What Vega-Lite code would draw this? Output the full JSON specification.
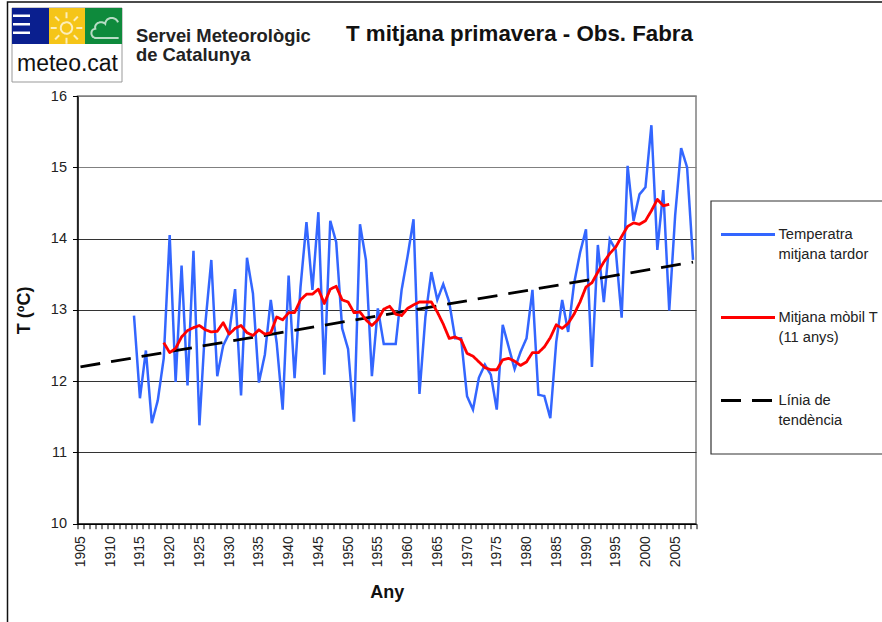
{"$schema":"https://vega.github.io/schema/vega-lite/v6.json","width":618.5,"height":427.7,"autosize":"none","padding":{"left":77.5,"top":96,"right":186,"bottom":98.3},"background":"white","config":{"font":"Liberation Sans","view":{"stroke":"#808080","strokeWidth":1.5}},"datasets":{"d":[{"year":1914,"series":"Temperatra mitjana tardor","t":12.92},{"year":1915,"series":"Temperatra mitjana tardor","t":11.76},{"year":1916,"series":"Temperatra mitjana tardor","t":12.43},{"year":1917,"series":"Temperatra mitjana tardor","t":11.41},{"year":1918,"series":"Temperatra mitjana tardor","t":11.73},{"year":1919,"series":"Temperatra mitjana tardor","t":12.32},{"year":1920,"series":"Temperatra mitjana tardor","t":14.05},{"year":1921,"series":"Temperatra mitjana tardor","t":11.99},{"year":1922,"series":"Temperatra mitjana tardor","t":13.62},{"year":1923,"series":"Temperatra mitjana tardor","t":11.94},{"year":1924,"series":"Temperatra mitjana tardor","t":13.83},{"year":1925,"series":"Temperatra mitjana tardor","t":11.38},{"year":1926,"series":"Temperatra mitjana tardor","t":12.81},{"year":1927,"series":"Temperatra mitjana tardor","t":13.7},{"year":1928,"series":"Temperatra mitjana tardor","t":12.07},{"year":1929,"series":"Temperatra mitjana tardor","t":12.5},{"year":1930,"series":"Temperatra mitjana tardor","t":12.67},{"year":1931,"series":"Temperatra mitjana tardor","t":13.29},{"year":1932,"series":"Temperatra mitjana tardor","t":11.8},{"year":1933,"series":"Temperatra mitjana tardor","t":13.73},{"year":1934,"series":"Temperatra mitjana tardor","t":13.23},{"year":1935,"series":"Temperatra mitjana tardor","t":11.98},{"year":1936,"series":"Temperatra mitjana tardor","t":12.37},{"year":1937,"series":"Temperatra mitjana tardor","t":13.14},{"year":1938,"series":"Temperatra mitjana tardor","t":12.53},{"year":1939,"series":"Temperatra mitjana tardor","t":11.6},{"year":1940,"series":"Temperatra mitjana tardor","t":13.48},{"year":1941,"series":"Temperatra mitjana tardor","t":12.04},{"year":1942,"series":"Temperatra mitjana tardor","t":13.32},{"year":1943,"series":"Temperatra mitjana tardor","t":14.23},{"year":1944,"series":"Temperatra mitjana tardor","t":13.28},{"year":1945,"series":"Temperatra mitjana tardor","t":14.37},{"year":1946,"series":"Temperatra mitjana tardor","t":12.09},{"year":1947,"series":"Temperatra mitjana tardor","t":14.25},{"year":1948,"series":"Temperatra mitjana tardor","t":13.95},{"year":1949,"series":"Temperatra mitjana tardor","t":12.74},{"year":1950,"series":"Temperatra mitjana tardor","t":12.45},{"year":1951,"series":"Temperatra mitjana tardor","t":11.43},{"year":1952,"series":"Temperatra mitjana tardor","t":14.2},{"year":1953,"series":"Temperatra mitjana tardor","t":13.7},{"year":1954,"series":"Temperatra mitjana tardor","t":12.07},{"year":1955,"series":"Temperatra mitjana tardor","t":13.02},{"year":1956,"series":"Temperatra mitjana tardor","t":12.52},{"year":1957,"series":"Temperatra mitjana tardor","t":12.52},{"year":1958,"series":"Temperatra mitjana tardor","t":12.52},{"year":1959,"series":"Temperatra mitjana tardor","t":13.28},{"year":1960,"series":"Temperatra mitjana tardor","t":13.75},{"year":1961,"series":"Temperatra mitjana tardor","t":14.27},{"year":1962,"series":"Temperatra mitjana tardor","t":11.82},{"year":1963,"series":"Temperatra mitjana tardor","t":12.9},{"year":1964,"series":"Temperatra mitjana tardor","t":13.53},{"year":1965,"series":"Temperatra mitjana tardor","t":13.14},{"year":1966,"series":"Temperatra mitjana tardor","t":13.36},{"year":1967,"series":"Temperatra mitjana tardor","t":13.11},{"year":1968,"series":"Temperatra mitjana tardor","t":12.6},{"year":1969,"series":"Temperatra mitjana tardor","t":12.6},{"year":1970,"series":"Temperatra mitjana tardor","t":11.79},{"year":1971,"series":"Temperatra mitjana tardor","t":11.6},{"year":1972,"series":"Temperatra mitjana tardor","t":12.05},{"year":1973,"series":"Temperatra mitjana tardor","t":12.23},{"year":1974,"series":"Temperatra mitjana tardor","t":12.09},{"year":1975,"series":"Temperatra mitjana tardor","t":11.6},{"year":1976,"series":"Temperatra mitjana tardor","t":12.79},{"year":1977,"series":"Temperatra mitjana tardor","t":12.48},{"year":1978,"series":"Temperatra mitjana tardor","t":12.17},{"year":1979,"series":"Temperatra mitjana tardor","t":12.41},{"year":1980,"series":"Temperatra mitjana tardor","t":12.6},{"year":1981,"series":"Temperatra mitjana tardor","t":13.28},{"year":1982,"series":"Temperatra mitjana tardor","t":11.81},{"year":1983,"series":"Temperatra mitjana tardor","t":11.79},{"year":1984,"series":"Temperatra mitjana tardor","t":11.48},{"year":1985,"series":"Temperatra mitjana tardor","t":12.55},{"year":1986,"series":"Temperatra mitjana tardor","t":13.14},{"year":1987,"series":"Temperatra mitjana tardor","t":12.69},{"year":1988,"series":"Temperatra mitjana tardor","t":13.37},{"year":1989,"series":"Temperatra mitjana tardor","t":13.8},{"year":1990,"series":"Temperatra mitjana tardor","t":14.13},{"year":1991,"series":"Temperatra mitjana tardor","t":12.2},{"year":1992,"series":"Temperatra mitjana tardor","t":13.91},{"year":1993,"series":"Temperatra mitjana tardor","t":13.11},{"year":1994,"series":"Temperatra mitjana tardor","t":13.99},{"year":1995,"series":"Temperatra mitjana tardor","t":13.84},{"year":1996,"series":"Temperatra mitjana tardor","t":12.89},{"year":1997,"series":"Temperatra mitjana tardor","t":15.02},{"year":1998,"series":"Temperatra mitjana tardor","t":14.25},{"year":1999,"series":"Temperatra mitjana tardor","t":14.62},{"year":2000,"series":"Temperatra mitjana tardor","t":14.72},{"year":2001,"series":"Temperatra mitjana tardor","t":15.59},{"year":2002,"series":"Temperatra mitjana tardor","t":13.84},{"year":2003,"series":"Temperatra mitjana tardor","t":14.68},{"year":2004,"series":"Temperatra mitjana tardor","t":12.99},{"year":2005,"series":"Temperatra mitjana tardor","t":14.33},{"year":2006,"series":"Temperatra mitjana tardor","t":15.27},{"year":2007,"series":"Temperatra mitjana tardor","t":15.0},{"year":2008,"series":"Temperatra mitjana tardor","t":13.7},{"year":1905,"series":"Línia de tendència","t":12.2},{"year":2008,"series":"Línia de tendència","t":13.67},{"year":1919,"series":"Mitjana mòbil T (11 anys)","t":12.54},{"year":1920,"series":"Mitjana mòbil T (11 anys)","t":12.4},{"year":1921,"series":"Mitjana mòbil T (11 anys)","t":12.46},{"year":1922,"series":"Mitjana mòbil T (11 anys)","t":12.62},{"year":1923,"series":"Mitjana mòbil T (11 anys)","t":12.71},{"year":1924,"series":"Mitjana mòbil T (11 anys)","t":12.75},{"year":1925,"series":"Mitjana mòbil T (11 anys)","t":12.78},{"year":1926,"series":"Mitjana mòbil T (11 anys)","t":12.72},{"year":1927,"series":"Mitjana mòbil T (11 anys)","t":12.69},{"year":1928,"series":"Mitjana mòbil T (11 anys)","t":12.7},{"year":1929,"series":"Mitjana mòbil T (11 anys)","t":12.82},{"year":1930,"series":"Mitjana mòbil T (11 anys)","t":12.66},{"year":1931,"series":"Mitjana mòbil T (11 anys)","t":12.74},{"year":1932,"series":"Mitjana mòbil T (11 anys)","t":12.78},{"year":1933,"series":"Mitjana mòbil T (11 anys)","t":12.68},{"year":1934,"series":"Mitjana mòbil T (11 anys)","t":12.64},{"year":1935,"series":"Mitjana mòbil T (11 anys)","t":12.72},{"year":1936,"series":"Mitjana mòbil T (11 anys)","t":12.66},{"year":1937,"series":"Mitjana mòbil T (11 anys)","t":12.68},{"year":1938,"series":"Mitjana mòbil T (11 anys)","t":12.9},{"year":1939,"series":"Mitjana mòbil T (11 anys)","t":12.86},{"year":1940,"series":"Mitjana mòbil T (11 anys)","t":12.96},{"year":1941,"series":"Mitjana mòbil T (11 anys)","t":12.96},{"year":1942,"series":"Mitjana mòbil T (11 anys)","t":13.14},{"year":1943,"series":"Mitjana mòbil T (11 anys)","t":13.22},{"year":1944,"series":"Mitjana mòbil T (11 anys)","t":13.22},{"year":1945,"series":"Mitjana mòbil T (11 anys)","t":13.29},{"year":1946,"series":"Mitjana mòbil T (11 anys)","t":13.09},{"year":1947,"series":"Mitjana mòbil T (11 anys)","t":13.29},{"year":1948,"series":"Mitjana mòbil T (11 anys)","t":13.33},{"year":1949,"series":"Mitjana mòbil T (11 anys)","t":13.14},{"year":1950,"series":"Mitjana mòbil T (11 anys)","t":13.11},{"year":1951,"series":"Mitjana mòbil T (11 anys)","t":12.96},{"year":1952,"series":"Mitjana mòbil T (11 anys)","t":12.97},{"year":1953,"series":"Mitjana mòbil T (11 anys)","t":12.86},{"year":1954,"series":"Mitjana mòbil T (11 anys)","t":12.78},{"year":1955,"series":"Mitjana mòbil T (11 anys)","t":12.86},{"year":1956,"series":"Mitjana mòbil T (11 anys)","t":13.01},{"year":1957,"series":"Mitjana mòbil T (11 anys)","t":13.05},{"year":1958,"series":"Mitjana mòbil T (11 anys)","t":12.94},{"year":1959,"series":"Mitjana mòbil T (11 anys)","t":12.92},{"year":1960,"series":"Mitjana mòbil T (11 anys)","t":13.02},{"year":1961,"series":"Mitjana mòbil T (11 anys)","t":13.07},{"year":1962,"series":"Mitjana mòbil T (11 anys)","t":13.11},{"year":1963,"series":"Mitjana mòbil T (11 anys)","t":13.11},{"year":1964,"series":"Mitjana mòbil T (11 anys)","t":13.11},{"year":1965,"series":"Mitjana mòbil T (11 anys)","t":12.97},{"year":1966,"series":"Mitjana mòbil T (11 anys)","t":12.8},{"year":1967,"series":"Mitjana mòbil T (11 anys)","t":12.6},{"year":1968,"series":"Mitjana mòbil T (11 anys)","t":12.62},{"year":1969,"series":"Mitjana mòbil T (11 anys)","t":12.58},{"year":1970,"series":"Mitjana mòbil T (11 anys)","t":12.39},{"year":1971,"series":"Mitjana mòbil T (11 anys)","t":12.35},{"year":1972,"series":"Mitjana mòbil T (11 anys)","t":12.27},{"year":1973,"series":"Mitjana mòbil T (11 anys)","t":12.19},{"year":1974,"series":"Mitjana mòbil T (11 anys)","t":12.16},{"year":1975,"series":"Mitjana mòbil T (11 anys)","t":12.16},{"year":1976,"series":"Mitjana mòbil T (11 anys)","t":12.3},{"year":1977,"series":"Mitjana mòbil T (11 anys)","t":12.32},{"year":1978,"series":"Mitjana mòbil T (11 anys)","t":12.28},{"year":1979,"series":"Mitjana mòbil T (11 anys)","t":12.22},{"year":1980,"series":"Mitjana mòbil T (11 anys)","t":12.27},{"year":1981,"series":"Mitjana mòbil T (11 anys)","t":12.4},{"year":1982,"series":"Mitjana mòbil T (11 anys)","t":12.4},{"year":1983,"series":"Mitjana mòbil T (11 anys)","t":12.48},{"year":1984,"series":"Mitjana mòbil T (11 anys)","t":12.61},{"year":1985,"series":"Mitjana mòbil T (11 anys)","t":12.79},{"year":1986,"series":"Mitjana mòbil T (11 anys)","t":12.74},{"year":1987,"series":"Mitjana mòbil T (11 anys)","t":12.81},{"year":1988,"series":"Mitjana mòbil T (11 anys)","t":12.94},{"year":1989,"series":"Mitjana mòbil T (11 anys)","t":13.11},{"year":1990,"series":"Mitjana mòbil T (11 anys)","t":13.32},{"year":1991,"series":"Mitjana mòbil T (11 anys)","t":13.38},{"year":1992,"series":"Mitjana mòbil T (11 anys)","t":13.53},{"year":1993,"series":"Mitjana mòbil T (11 anys)","t":13.67},{"year":1994,"series":"Mitjana mòbil T (11 anys)","t":13.79},{"year":1995,"series":"Mitjana mòbil T (11 anys)","t":13.88},{"year":1996,"series":"Mitjana mòbil T (11 anys)","t":14.03},{"year":1997,"series":"Mitjana mòbil T (11 anys)","t":14.17},{"year":1998,"series":"Mitjana mòbil T (11 anys)","t":14.22},{"year":1999,"series":"Mitjana mòbil T (11 anys)","t":14.2},{"year":2000,"series":"Mitjana mòbil T (11 anys)","t":14.25},{"year":2001,"series":"Mitjana mòbil T (11 anys)","t":14.39},{"year":2002,"series":"Mitjana mòbil T (11 anys)","t":14.55},{"year":2003,"series":"Mitjana mòbil T (11 anys)","t":14.46},{"year":2004,"series":"Mitjana mòbil T (11 anys)","t":14.48}]},"encoding":{"x":{"field":"year","type":"quantitative","scale":{"domain":[1904.5,2008.5],"nice":false,"zero":false},"axis":{"title":"Any","titleFontSize":18,"titleFontWeight":"bold","titleColor":"#111","titleY":69,"titleBaseline":"middle","titleAnchor":"middle","values":[1904.5,1905.5,1906.5,1907.5,1908.5,1909.5,1910.5,1911.5,1912.5,1913.5,1914.5,1915.5,1916.5,1917.5,1918.5,1919.5,1920.5,1921.5,1922.5,1923.5,1924.5,1925.5,1926.5,1927.5,1928.5,1929.5,1930.5,1931.5,1932.5,1933.5,1934.5,1935.5,1936.5,1937.5,1938.5,1939.5,1940.5,1941.5,1942.5,1943.5,1944.5,1945.5,1946.5,1947.5,1948.5,1949.5,1950.5,1951.5,1952.5,1953.5,1954.5,1955.5,1956.5,1957.5,1958.5,1959.5,1960.5,1961.5,1962.5,1963.5,1964.5,1965.5,1966.5,1967.5,1968.5,1969.5,1970.5,1971.5,1972.5,1973.5,1974.5,1975.5,1976.5,1977.5,1978.5,1979.5,1980.5,1981.5,1982.5,1983.5,1984.5,1985.5,1986.5,1987.5,1988.5,1989.5,1990.5,1991.5,1992.5,1993.5,1994.5,1995.5,1996.5,1997.5,1998.5,1999.5,2000.5,2001.5,2002.5,2003.5,2004.5,2005.5,2006.5,2007.5,2008.5],"labelExpr":"(datum.value+0.5)%5==0 ? ''+(datum.value+0.5) : ''","labelAngle":-90,"labelOffset":3,"labelFontSize":14,"labelColor":"#222","labelOverlap":false,"labelBound":false,"labelFlush":false,"labelPadding":7,"grid":false,"domainColor":"#000","domainWidth":1.5,"tickColor":"#000","tickSize":5,"tickWidth":1}},"y":{"field":"t","type":"quantitative","scale":{"domain":[10,16],"nice":false,"zero":false},"axis":{"title":"T (ºC)","titleFontSize":18,"titleFontWeight":"bold","titleColor":"#111","titleX":-44,"values":[10,11,12,13,14,15,16],"format":"d","labelFontSize":14.5,"labelColor":"#222","labelPadding":6,"domainColor":"#000","domainWidth":1.5,"tickColor":"#000","tickSize":5,"grid":true,"gridColor":{"condition":{"test":"datum.value>=15","value":"#808080"},"value":"#333333"},"gridWidth":1}},"color":{"field":"series","type":"nominal","scale":{"domain":["Temperatra mitjana tardor","Mitjana mòbil T (11 anys)","Línia de tendència"],"range":["#3366FF","#FF0000","#000000"]},"legend":{"title":null,"orient":"none","legendX":642,"legendY":110,"symbolType":"stroke","symbolSize":2916,"symbolStrokeWidth":3,"symbolOpacity":1,"rowPadding":27,"labelFontSize":14.7,"labelColor":"#222","labelLimit":200,"labelOffset":2,"labelBaseline":"top","labelExpr":"datum.label=='Temperatra mitjana tardor' ? ['Temperatra','mitjana tardor'] : datum.label=='Mitjana mòbil T (11 anys)' ? ['Mitjana mòbil T','(11 anys)'] : ['Línia de','tendència']","encode":{"labels":{"update":{"dy":{"value":-8},"lineHeight":{"value":20}}}}}},"strokeDash":{"field":"series","type":"nominal","scale":{"domain":["Temperatra mitjana tardor","Mitjana mòbil T (11 anys)","Línia de tendència"],"range":[[1,0],[1,0],[20,11]]}}},"layer":[{"data":{"values":[{"part":"page"}]},"mark":{"type":"rect","fill":"transparent","stroke":"#111","strokeWidth":1.5},"encoding":{"x":{"value":-70},"x2":{"value":820},"y":{"value":-94},"y2":{"value":540},"color":{"value":"transparent"},"strokeDash":{"value":[1,0]}}},{"data":{"values":[{"part":"legend box"}]},"mark":{"type":"rect","fill":"white","stroke":"#333","strokeWidth":1.2},"encoding":{"x":{"value":633.5},"x2":{"value":820},"y":{"value":105},"y2":{"value":358},"color":{"value":"white"},"strokeDash":{"value":[1,0]}}},{"data":{"name":"d"},"transform":[{"filter":"datum.series=='Temperatra mitjana tardor'"}],"mark":{"type":"line","strokeWidth":2.5,"strokeCap":"butt","strokeJoin":"miter"}},{"data":{"name":"d"},"transform":[{"filter":"datum.series=='Línia de tendència'"}],"mark":{"type":"line","strokeWidth":2.8,"strokeCap":"butt"}},{"data":{"name":"d"},"transform":[{"filter":"datum.series=='Mitjana mòbil T (11 anys)'"}],"mark":{"type":"line","strokeWidth":2.8,"strokeJoin":"round"}},{"data":{"values":[{"part":"logo"}]},"mark":{"type":"rect","fill":"white","stroke":"#999","strokeWidth":1},"encoding":{"x":{"value":-65.5},"x2":{"value":44.5},"y":{"value":-88},"y2":{"value":-14},"color":{"value":"white"},"strokeDash":{"value":[1,0]}}},{"data":{"values":[{"part":"logo"}]},"mark":{"type":"rect","fill":"#0A1F8F"},"encoding":{"x":{"value":-65.5},"x2":{"value":-28.5},"y":{"value":-88},"y2":{"value":-52},"color":{"value":"#0A1F8F"},"strokeDash":{"value":[1,0]}}},{"data":{"values":[{"part":"logo"}]},"mark":{"type":"rect","fill":"#F5C518"},"encoding":{"x":{"value":-28.5},"x2":{"value":7.5},"y":{"value":-88},"y2":{"value":-52},"color":{"value":"#F5C518"},"strokeDash":{"value":[1,0]}}},{"data":{"values":[{"part":"logo"}]},"mark":{"type":"rect","fill":"#0E8A3C"},"encoding":{"x":{"value":7.5},"x2":{"value":44.5},"y":{"value":-88},"y2":{"value":-52},"color":{"value":"#0E8A3C"},"strokeDash":{"value":[1,0]}}},{"data":{"values":[{"part":"logo"}]},"mark":{"type":"rect","fill":"white"},"encoding":{"x":{"value":-64.5},"x2":{"value":-47.5},"y":{"value":-81.5},"y2":{"value":-79},"color":{"value":"white"},"strokeDash":{"value":[1,0]}}},{"data":{"values":[{"part":"logo"}]},"mark":{"type":"rect","fill":"white"},"encoding":{"x":{"value":-64.5},"x2":{"value":-47.5},"y":{"value":-73},"y2":{"value":-70.5},"color":{"value":"white"},"strokeDash":{"value":[1,0]}}},{"data":{"values":[{"part":"logo"}]},"mark":{"type":"rect","fill":"white"},"encoding":{"x":{"value":-64.5},"x2":{"value":-47.5},"y":{"value":-64.5},"y2":{"value":-62},"color":{"value":"white"},"strokeDash":{"value":[1,0]}}},{"data":{"values":[{"part":"sun"}]},"mark":{"type":"point","shape":"circle","filled":false,"stroke":"white","strokeWidth":2},"encoding":{"x":{"value":-11},"y":{"value":-68},"size":{"value":130},"color":{"value":"white"},"strokeDash":{"value":[1,0]}}},{"data":{"values":[{"part":"rays"}]},"mark":{"type":"point","shape":"M-1,0L-.62,0M.62,0L1,0M0,-1L0,-.62M0,.62L0,1M-.72,-.72L-.46,-.46M.72,.72L.46,.46M-.72,.72L-.46,.46M.72,-.72L.46,-.46","filled":false,"stroke":"white","strokeWidth":2},"encoding":{"x":{"value":-11},"y":{"value":-68},"size":{"value":1000},"color":{"value":"white"},"strokeDash":{"value":[1,0]}}},{"data":{"values":[{"part":"cloud"}]},"mark":{"type":"point","shape":"M1,.7L-.6,.7C-1,.7 -1.05,.1 -.65,.05C-.75,-.35 -.2,-.55 .05,-.3C.1,-.8 .8,-.85 .95,-.4","filled":false,"stroke":"white","strokeWidth":2},"encoding":{"x":{"value":27},"y":{"value":-68},"size":{"value":800},"color":{"value":"white"},"strokeDash":{"value":[1,0]}}},{"data":{"values":[{"label":"meteo.cat"}]},"mark":{"type":"text","fontSize":23,"align":"center","baseline":"middle","fill":"#111"},"encoding":{"text":{"field":"label"},"x":{"value":-10},"y":{"value":-32},"color":{"value":"#111"},"strokeDash":{"value":[1,0]}}},{"data":{"values":[{"label":"Servei Meteorològic\nde Catalunya"}]},"mark":{"type":"text","fontSize":18.4,"fontWeight":"bold","align":"left","baseline":"middle","lineBreak":"\n","lineHeight":18.5,"fill":"#222"},"encoding":{"text":{"field":"label"},"x":{"value":58.5},"y":{"value":-60},"color":{"value":"#222"},"strokeDash":{"value":[1,0]}}},{"data":{"values":[{"label":"T mitjana primavera - Obs. Fabra"}]},"mark":{"type":"text","fontSize":22.3,"fontWeight":"bold","align":"left","baseline":"middle","fill":"#111"},"encoding":{"text":{"field":"label"},"x":{"value":268.5},"y":{"value":-62},"color":{"value":"#111"},"strokeDash":{"value":[1,0]}}}]}
